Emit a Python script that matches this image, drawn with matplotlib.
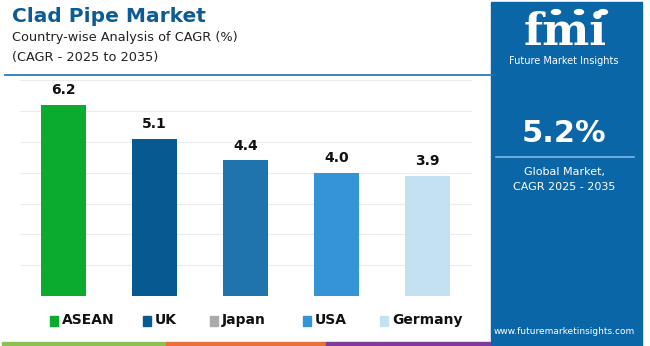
import matplotlib.pyplot as plt
from matplotlib.patches import Rectangle, Circle
from matplotlib.lines import Line2D

###############################################################################
# Data
###############################################################################
countries = ['ASEAN', 'UK', 'Japan', 'USA', 'Germany']
cagr = [6.2, 5.1, 4.4, 4.0, 3.9]
bar_colors = ['#0aab2e', '#065a91', '#1f74ad', '#3494d6', '#c3e1f1']
legend_colors = ['#0aab2e', '#065a91', '#aaaaaa', '#3494d6', '#c3e1f1']
global_cagr = '5.2%'
#------------------------------------------------------------------------------

panel_blue = '#0b66a7'
title_blue = '#0d5b95'

fig = plt.figure(figsize=(6.5, 3.46), dpi=100)
W, H = 650, 346

def fx(x):
    return x / W

def fy(y):
    return 1 - y / H

###############################################################################
# Bar chart
###############################################################################
ax = fig.add_axes([fx(20), fy(296), fx(452), 215.6 / H])
xs = list(range(len(countries)))
ax.bar(xs, cagr, width=0.5, color=bar_colors, zorder=3)
for x, v in zip(xs, cagr):
    ax.text(x, v + 0.25, '{:.1f}'.format(v), ha='center', va='bottom',
            fontsize=10, fontweight='bold', color='#111111')
ax.set_xlim(-0.48, 4.49)
ax.set_ylim(0, 7)
ax.set_yticks(range(0, 8))
ax.grid(axis='y', color='#ececec', linewidth=0.8, zorder=0)
ax.tick_params(left=False, bottom=False, labelleft=False, labelbottom=False)
for s in ax.spines.values():
    s.set_visible(False)
#------------------------------------------------------------------------------

###############################################################################
# Titles
###############################################################################
fig.text(fx(12), fy(16), 'Clad Pipe Market', fontsize=14.5, fontweight='heavy',
         color=title_blue, va='center', ha='left')
fig.text(fx(12), fy(38), 'Country-wise Analysis of CAGR (%)', fontsize=9.3,
         color='#222222', va='center', ha='left')
fig.text(fx(12), fy(57), '(CAGR - 2025 to 2035)', fontsize=9.3,
         color='#222222', va='center', ha='left')
fig.add_artist(Line2D([fx(5), fx(492)], [fy(75), fy(75)], color='#2b79b5',
                      linewidth=1.3))
#------------------------------------------------------------------------------

###############################################################################
# Legend
###############################################################################
leg_x = [50, 143, 210, 303, 380]
for lx, name, col in zip(leg_x, countries, legend_colors):
    fig.add_artist(Rectangle((fx(lx), fy(326)), fx(8), 10 / H, color=col))
    fig.text(fx(lx + 12), fy(320), name, fontsize=10, fontweight='bold',
             color='#111111', va='center', ha='left')
#------------------------------------------------------------------------------

###############################################################################
# Bottom stripe
###############################################################################
stripe = [(2, 166, '#8cc152'), (166, 326, '#e8703a'), (326, 490, '#7d3c98')]
for x0, x1, col in stripe:
    fig.add_artist(Rectangle((fx(x0), 0), fx(x1 - x0), 4.5 / H, color=col))
#------------------------------------------------------------------------------

###############################################################################
# Right panel
###############################################################################
fig.add_artist(Rectangle((fx(491), 0), fx(151), 1 - 2 / H, color=panel_blue))
fig.text(fx(565), fy(45), 'fmi', fontsize=32, fontweight='bold',
         family='DejaVu Serif', color='white', ha='center', va='baseline')
for cx in [556, 579, 603]:
    fig.add_artist(Circle((fx(cx), fy(12)), 4.5 / W, color='white'))
for yy in range(19, 46, 3):
    fig.add_artist(Line2D([fx(505), fx(625)], [fy(yy), fy(yy)],
                          color=panel_blue, linewidth=0.6))
fig.text(fx(564), fy(61), 'Future Market Insights', fontsize=7,
         color='white', ha='center', va='center')
fig.text(fx(564), fy(133), global_cagr, fontsize=22, fontweight='bold',
         color='white', ha='center', va='center')
fig.add_artist(Line2D([fx(496), fx(634)], [fy(157), fy(157)],
                      color='#7cbbe6', linewidth=1.2))
fig.text(fx(564), fy(172), 'Global Market,', fontsize=8, color='white',
         ha='center', va='center')
fig.text(fx(564), fy(187), 'CAGR 2025 - 2035', fontsize=8, color='white',
         ha='center', va='center')
fig.text(fx(564), fy(332), 'www.futuremarketinsights.com', fontsize=6.5,
         color='white', ha='center', va='center')
#------------------------------------------------------------------------------

plt.savefig('out.png', dpi=100)
